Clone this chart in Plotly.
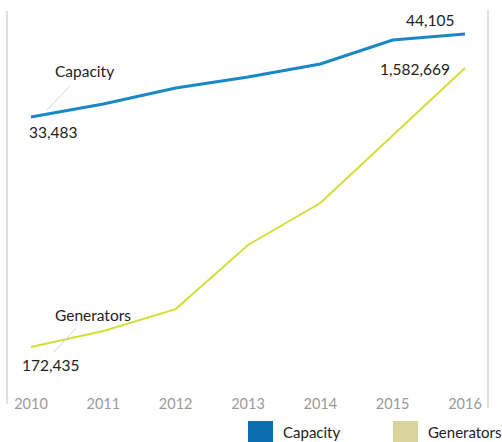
import plotly.graph_objects as go

years = [2010, 2011, 2012, 2013, 2014, 2015, 2016]
capacity = [33483, 35150, 37200, 38600, 40270, 43340, 44105]
generators = [172435, 253000, 364000, 688000, 900000, 1239000, 1582669]

series_names = ["Capacity", "Generators"]
line_colors = ["#1a88c8", "#d3df38"]
swatch_colors = ["#0b6dab", "#d9d49b"]

FONT = "Lato"
TEXT = "#222222"

fig = go.Figure()
fig.add_trace(go.Scatter(x=years, y=capacity, mode="lines", name=series_names[0],
                         line=dict(color=line_colors[0], width=3), yaxis="y",
                         hoverinfo="skip"))
fig.add_trace(go.Scatter(x=years, y=generators, mode="lines", name=series_names[1],
                         line=dict(color=line_colors[1], width=2), yaxis="y2",
                         hoverinfo="skip"))

def fmt(v):
    return f"{v:,}"

annotations = [
    # value labels at first and last points
    dict(x=years[0], y=capacity[0], yref="y", text=fmt(capacity[0]), xanchor="left",
         yanchor="top", xshift=-4, yshift=-4),
    dict(x=years[-1], y=capacity[-1], yref="y", text=fmt(capacity[-1]), xanchor="right",
         yanchor="bottom", xshift=-9, yshift=3),
    dict(x=years[-1], y=generators[-1], yref="y2", text=fmt(generators[-1]), xanchor="right",
         yanchor="middle", xshift=-13, yshift=-1),
    dict(x=years[0], y=generators[0], yref="y2", text=fmt(generators[0]), xanchor="left",
         yanchor="top", xshift=-11, yshift=-7),
    # series name labels
    dict(x=years[0], y=capacity[0], yref="y", text=series_names[0], xanchor="left",
         yanchor="bottom", xshift=22, yshift=35),
    dict(x=years[0], y=generators[0], yref="y2", text=series_names[1], xanchor="left",
         yanchor="bottom", xshift=22, yshift=21),
]
for a in annotations:
    a.update(xref="x", showarrow=False, font=dict(family=FONT, size=15.5, color=TEXT))

# leader lines from series names toward the lines (drawn as short arrows)
annotations += [
    dict(x=years[0], y=capacity[0], xref="x", yref="y", ax=24, ay=-25, axref="pixel",
         ayref="pixel", text="", showarrow=True, arrowhead=0, arrowwidth=1,
         arrowcolor="#d0d0d0", xshift=16, yshift=7),
    dict(x=years[0], y=generators[0], xref="x", yref="y2", ax=23, ay=-25, axref="pixel",
         ayref="pixel", text="", showarrow=True, arrowhead=0, arrowwidth=1,
         arrowcolor="#d0d0d0", xshift=23, yshift=-5),
]

# custom legend with square swatches
legend_x = [248, 393]
shapes = []
for i, name in enumerate(series_names):
    shapes.append(dict(type="rect", xref="paper", yref="paper",
                       x0=(legend_x[i] - 7) / 481, x1=(legend_x[i] + 18) / 481,
                       y0=(390 - 442) / 380, y1=(390 - 421) / 380,
                       fillcolor=swatch_colors[i], line=dict(width=0)))
    annotations.append(dict(xref="paper", yref="paper", x=(legend_x[i] + 26) / 481,
                            y=(390 - 432) / 380, text=name, showarrow=False,
                            xanchor="left", yanchor="middle",
                            font=dict(family=FONT, size=15, color=TEXT)))

# light vertical frame lines at left and right
shapes.append(dict(type="line", xref="paper", yref="paper", x0=0, x1=0,
                   y0=(390 - 404) / 380, y1=(390 - 11) / 380,
                   line=dict(color="#d6d6d6", width=1.5)))
shapes.append(dict(type="line", xref="paper", yref="paper", x0=1, x1=1,
                   y0=(390 - 408) / 380, y1=(390 - 10) / 380,
                   line=dict(color="#d6d6d6", width=1.5)))

fig.update_layout(
    width=502, height=442,
    margin=dict(l=7, r=14, t=10, b=52),
    paper_bgcolor="white", plot_bgcolor="white",
    showlegend=False,
    xaxis=dict(range=[2009.668, 2016.318], tickmode="array", tickvals=years,
               ticktext=[str(y) for y in years], showgrid=False, zeroline=False,
               showline=False, ticks="", ticklabelstandoff=3,
               tickfont=dict(family=FONT, size=14.5, color="#9a9a9a")),
    yaxis=dict(range=[-1460, 47180], visible=False, fixedrange=True),
    yaxis2=dict(range=[-45000, 1875915], overlaying="y", visible=False),
    annotations=annotations,
    shapes=shapes,
)

fig.write_html("out.html")
